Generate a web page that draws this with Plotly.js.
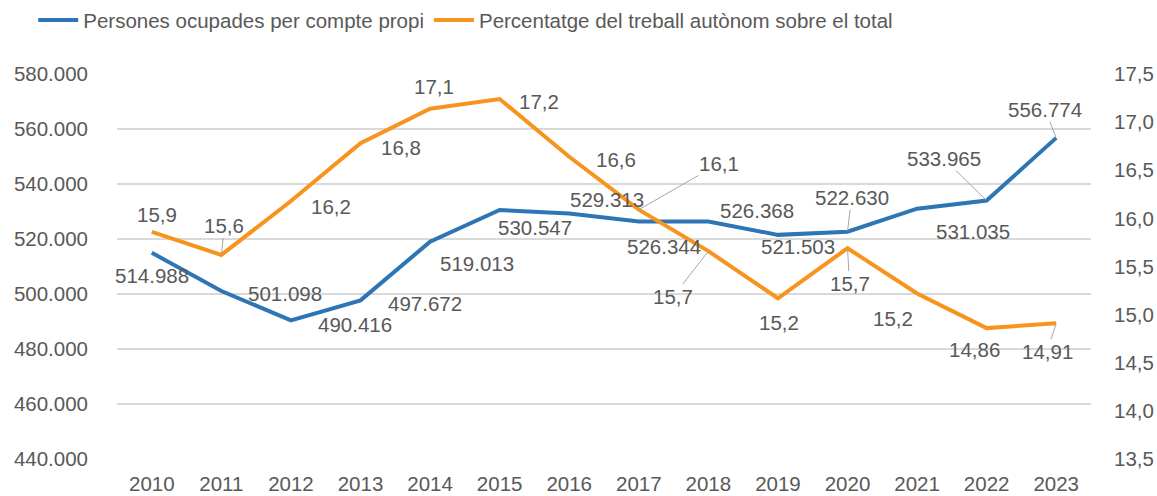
<!DOCTYPE html>
<html>
<head>
<meta charset="utf-8">
<script src="https://cdn.plot.ly/plotly-3.0.1.min.js"></script>
<style>html,body{margin:0;padding:0;background:#fff;}#chart{width:1157px;height:496px;}</style>
</head>
<body>
<div id="chart"></div>
<script>
// ---- data ----
const years = ['2010','2011','2012','2013','2014','2015','2016','2017','2018','2019','2020','2021','2022','2023'];
const selfEmployed = [514988, 501098, 490416, 497672, 519013, 530547, 529313, 526344, 526368, 521503, 522630, 531035, 533965, 556774];
const selfEmployedShare = [15.86, 15.62, 16.18, 16.78, 17.14, 17.24, 16.64, 16.09, 15.66, 15.17, 15.69, 15.22, 14.86, 14.91];
const shareLabels = ['15,9','15,6','16,2','16,8','17,1','17,2','16,6','16,1','15,7','15,2','15,7','15,2','14,86','14,91'];
const seriesNames = ['Persones ocupades per compte propi', 'Percentatge del treball autònom sobre el total'];

// ---- label placement (pixel offsets of label centre from point; lead = leader line) ----
const blueOffsets = [[0,23,0],[64,3,0],[64,4,0],[64,3,0],[47,22,0],[35,17,0],[38,-14,0],[25,25,0],[49,-11,0],[20,12,0],[4,-34,1],[56,23,0],[-43,-42,1],[-11,-28,1]];
const orangeOffsets = [[5,-17,0],[3,-29,1],[40,5,0],[40,4,0],[4,-22,0],[39,2,0],[47,3,0],[80,-46,1],[-35,45,1],[1,24,0],[2,35,1],[-24,25,0],[-12,21,0],[-9,28,1]];

const BLUE = '#2E75B6', ORANGE = '#F7941D', TXT = '#595959', GRID = '#D9D9D9', LEAD = '#A6A6A6';
const FONT = 'Liberation Sans, Arial, sans-serif';
const FS = 20.5;

function fmtThousands(v){ return String(v).replace(/\B(?=(\d{3})+(?!\d))/g, '.'); }

const traces = [
  {x: years, y: selfEmployed, name: seriesNames[0], type: 'scatter', mode: 'lines',
   line: {color: BLUE, width: 4}, yaxis: 'y', hoverinfo: 'skip'},
  {x: years, y: selfEmployedShare, name: seriesNames[1], type: 'scatter', mode: 'lines',
   line: {color: ORANGE, width: 4}, yaxis: 'y2', hoverinfo: 'skip'}
];

function makeAnn(xi, y, yref, text, off){
  const a = {x: xi, y: y, xref: 'x', yref: yref, text: text,
    font: {family: FONT, size: FS, color: TXT}};
  if (off[2]) {
    a.showarrow = true; a.ax = off[0]; a.ay = off[1];
    a.arrowhead = 0; a.arrowwidth = 1; a.arrowcolor = LEAD; a.standoff = 1;
    a.borderpad = 0;
  } else {
    a.showarrow = false; a.xshift = off[0]; a.yshift = -off[1];
  }
  return a;
}
const annotations = [];
years.forEach((yr, i) => {
  annotations.push(makeAnn(i, selfEmployed[i], 'y', fmtThousands(selfEmployed[i]), blueOffsets[i]));
  annotations.push(makeAnn(i, selfEmployedShare[i], 'y2', shareLabels[i], orangeOffsets[i]));
});

const layout = {
  width: 1157, height: 496,
  margin: {l: 117, r: 66, t: 74, b: 37, autoexpand: false},
  paper_bgcolor: '#fff', plot_bgcolor: '#fff',
  separators: ',.',
  font: {family: FONT, size: FS, color: TXT},
  showlegend: true,
  legend: {orientation: 'h', x: -0.086, y: 1.14, xanchor: 'left', yanchor: 'middle',
    font: {family: FONT, size: FS, color: TXT}, bgcolor: 'rgba(0,0,0,0)', itemwidth: 40, traceorder: 'normal'},
  xaxis: {type: 'category', range: [-0.5, years.length - 0.5], autorange: false,
    showgrid: false, zeroline: false, showline: false, ticks: '',
    tickfont: {family: FONT, size: FS, color: TXT}, ticklabelstandoff: 10, fixedrange: true},
  yaxis: {range: [440000, 580000], dtick: 20000, tick0: 440000, tickformat: ',d',
    showgrid: true, gridcolor: GRID, gridwidth: 1.3, zeroline: false, showline: false, ticks: '',
    tickfont: {family: FONT, size: FS, color: TXT}, ticklabelstandoff: 28, fixedrange: true},
  yaxis2: {range: [13.5, 17.5], dtick: 0.5, tick0: 13.5, tickformat: '.1f', overlaying: 'y', side: 'right',
    showgrid: false, zeroline: false, showline: false, ticks: '',
    tickfont: {family: FONT, size: FS, color: TXT}, ticklabelstandoff: 22, fixedrange: true},
  annotations: annotations
};

Plotly.newPlot('chart', traces, layout, {staticPlot: true, displayModeBar: false});
</script>
</body>
</html>
